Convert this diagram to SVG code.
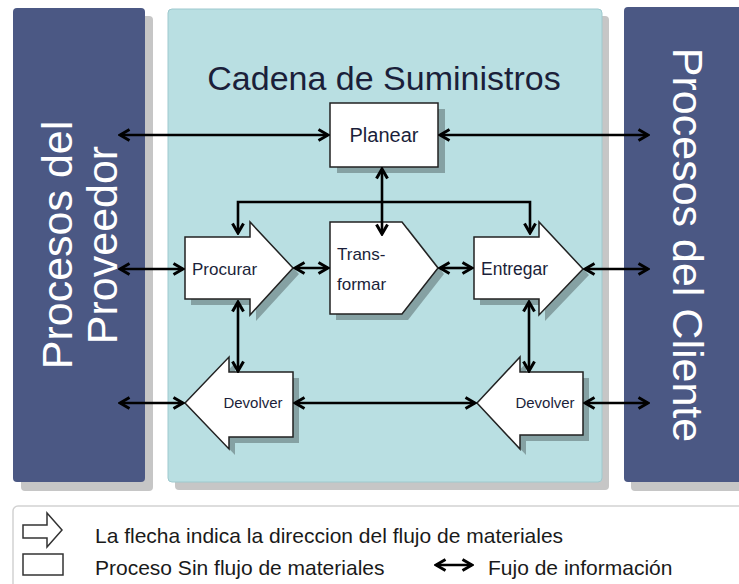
<svg xmlns="http://www.w3.org/2000/svg" width="739" height="584" viewBox="0 0 739 584">
<defs>
<style>
.panel{fill:#4b5884}
.pshadow{fill:#c6c6c6}
.shape{fill:#ffffff;stroke:#222;stroke-width:1.5}
.sshadow{fill:#000;opacity:0.28}
.lbl{font-family:"Liberation Sans",Arial,sans-serif;fill:#1b1f3a}
.side{font-family:"Liberation Sans",Arial,sans-serif;fill:#ffffff;font-size:43px;text-anchor:middle}
.conn{stroke:#000;stroke-width:2.6;fill:none;marker-start:url(#ah);marker-end:url(#ah)}
.leg{font-family:"Liberation Sans",Arial,sans-serif;fill:#1a1a1a;font-size:21px}
</style>
<marker id="ah" viewBox="0 0 14 14" refX="12" refY="7" markerWidth="14" markerHeight="14" markerUnits="userSpaceOnUse" orient="auto-start-reverse">
<path d="M2.5,1.5 L12,7 L2.5,12.5" fill="none" stroke="#000" stroke-width="3"/>
</marker>
</defs>
<rect width="739" height="584" fill="#ffffff"/>

<g id="proveedor">
<rect class="pshadow" x="21" y="16" width="132" height="475" rx="4"/>
<rect class="panel" x="13" y="8" width="132" height="474" rx="4"/>
<text class="side" transform="translate(72,245) rotate(-90)">Procesos del</text>
<text class="side" transform="translate(117,245) rotate(-90)">Proveedor</text>
</g>

<g id="cadena">
<rect class="pshadow" x="175" y="16" width="434" height="474" rx="4"/>
<rect x="168" y="9" width="434" height="473" rx="4" fill="#b9dfe2" stroke="#9ec9ce" stroke-width="1"/>
<text x="384" y="90" class="lbl" font-size="34" text-anchor="middle" fill="#111">Cadena de Suministros</text>
</g>

<g id="cliente">
<rect class="pshadow" x="631" y="15" width="120" height="476" rx="4"/>
<rect class="panel" x="624" y="7" width="130" height="475" rx="4"/>
<text class="side" transform="translate(673,245) rotate(90)">Procesos del Cliente</text>
</g>

<g id="planear">
<rect class="sshadow" x="337" y="109" width="108" height="64"/>
<rect class="shape" x="330" y="103" width="108" height="64"/>
<text x="384" y="142" class="lbl" font-size="20" text-anchor="middle">Planear</text>
</g>

<g id="procurar">
<path class="sshadow" d="M191,243 H256 V228 L299,274 L256,321 V305 H191 Z"/>
<path class="shape" d="M185,237 H250 V222 L293,268 L250,315 V299 H185 Z"/>
<text x="192" y="275" class="lbl" font-size="17">Procurar</text>
</g>

<g id="transformar">
<path class="sshadow" d="M336,228 H408 L444,274 L408,320 H336 Z"/>
<path class="shape" d="M330,222 H402 L438,268 L402,314 H330 Z"/>
<text x="337" y="260" class="lbl" font-size="17">Trans-</text>
<text x="337" y="290" class="lbl" font-size="17">formar</text>
</g>

<g id="entregar">
<path class="sshadow" d="M480,243 H545 V228 L589,275 L545,321 V305 H480 Z"/>
<path class="shape" d="M474,237 H539 V222 L583,269 L539,315 V299 H474 Z"/>
<text x="481" y="275" class="lbl" font-size="17.5">Entregar</text>
</g>

<g id="devolver1">
<path class="sshadow" d="M191,409 L235,363 V378 H299 V443 H235 V455 Z"/>
<path class="shape" d="M185,403 L229,357 V372 H293 V437 H229 V449 Z"/>
<text x="253" y="408" class="lbl" font-size="15" text-anchor="middle">Devolver</text>
</g>

<g id="devolver2">
<path class="sshadow" d="M483,409 L526,363 V378 H589 V441 H526 V455 Z"/>
<path class="shape" d="M477,403 L520,357 V372 H583 V435 H520 V449 Z"/>
<text x="545" y="408" class="lbl" font-size="15" text-anchor="middle">Devolver</text>
</g>

<g id="connectors">
<line class="conn" x1="120" y1="135" x2="328" y2="135"/>
<line class="conn" x1="440" y1="135" x2="648" y2="135"/>
<line class="conn" x1="382" y1="169" x2="382" y2="234"/>
<path class="conn" d="M238,233 V202 H530 V233"/>
<line class="conn" x1="120" y1="269" x2="183" y2="269"/>
<line class="conn" x1="295" y1="268" x2="328" y2="268"/>
<line class="conn" x1="440" y1="268" x2="472" y2="268"/>
<line class="conn" x1="585" y1="269" x2="648" y2="269"/>
<line class="conn" x1="238" y1="302" x2="238" y2="371"/>
<line class="conn" x1="529" y1="302" x2="529" y2="371"/>
<line class="conn" x1="120" y1="403" x2="183" y2="403"/>
<line class="conn" x1="295" y1="403" x2="475" y2="403"/>
<line class="conn" x1="585" y1="403" x2="648" y2="403"/>
</g>

<g id="legend">
<rect x="13" y="506" width="740" height="90" rx="5" fill="#ffffff" stroke="#d2d2d2" stroke-width="1.5"/>
<path d="M23,525 H47 V513 L62,530 L47,547 V538 H23 Z" fill="#fff" stroke="#333" stroke-width="1.5"/>
<rect x="23" y="554" width="40" height="21" fill="#fff" stroke="#333" stroke-width="1.5"/>
<text x="95" y="543" class="leg">La flecha indica la direccion del flujo de materiales</text>
<text x="95" y="575" class="leg">Proceso Sin flujo de materiales</text>
<line class="conn" x1="436" y1="565" x2="472" y2="565"/>
<text x="488" y="575" class="leg">Fujo de información</text>
</g>
</svg>
